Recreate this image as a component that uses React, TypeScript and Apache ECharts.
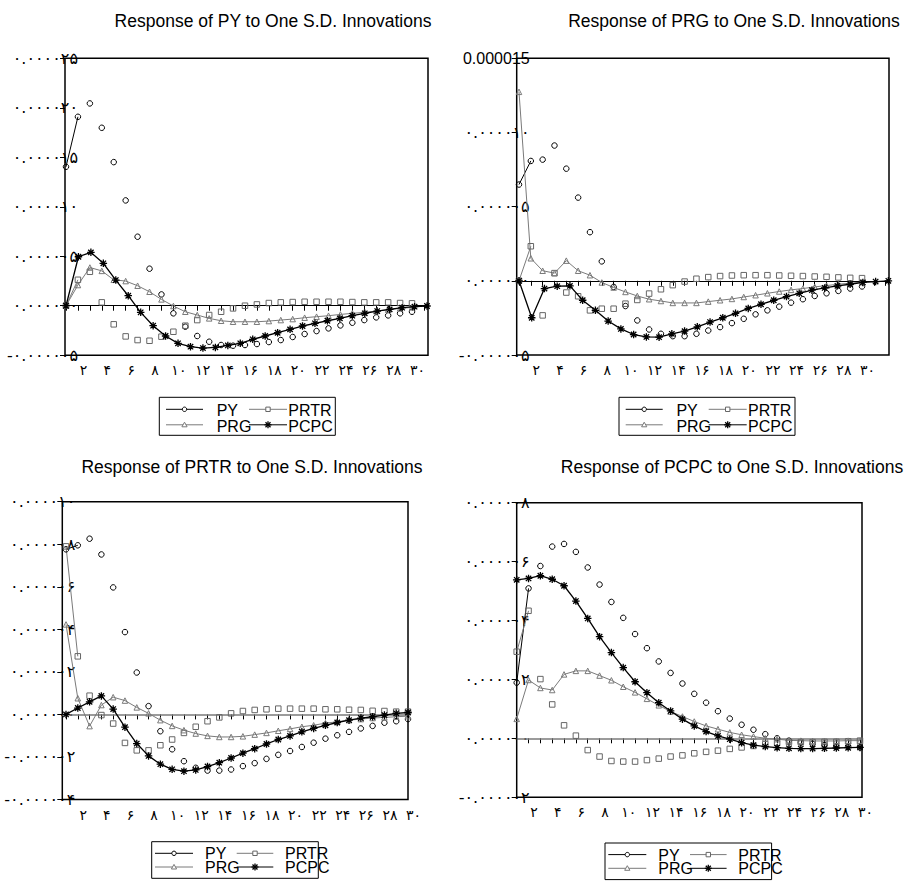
import React, { useEffect, useRef } from 'react';
import * as echarts from 'echarts';

// ---------- data (values in units of 1e-6) ----------
const PERIODS = [1, 2, 3, 4, 5, 6, 7, 8, 9, 10, 11, 12, 13, 14, 15, 16, 17, 18, 19, 20, 21, 22, 23, 24, 25, 26, 27, 28, 29, 30];
const X_TICKS = [1, 2, 3, 4, 5, 6, 7, 8, 9, 10, 11, 12, 13, 14, 15, 16, 17, 18, 19, 20, 21, 22, 23, 24, 25, 26, 27, 28, 29, 30, 31, 32];
const X_LABEL_TICKS = [2, 4, 6, 8, 10, 12, 14, 16, 18, 20, 22, 24, 26, 28, 30];
const X_TICK_LABELS = ['۲', '۴', '۶', '۸', '۱۰', '۱۲', '۱۴', '۱۶', '۱۸', '۲۰', '۲۲', '۲۴', '۲۶', '۲۸', '۳۰'];
const SERIES_NAMES = ['PY', 'PRTR', 'PRG', 'PCPC'];
const TITLES = [
  'Response of PY to One S.D. Innovations',
  'Response of PRG to One S.D. Innovations',
  'Response of PRTR to One S.D. Innovations',
  'Response of PCPC to One S.D. Innovations',
];

// Panel 1: response of PY
const PY_PY = [14.04, 19.09, 20.44, 17.98, 14.51, 10.64, 6.97, 3.74, 1.14, -0.77, -2.12, -3.06, -3.64, -3.97, -4.04, -3.97, -3.87, -3.67, -3.47, -3.16, -2.86, -2.56, -2.29, -1.99, -1.72, -1.45, -1.18, -0.98, -0.77, -0.61];
const PY_PRTR = [0, 2.62, 3.43, 0.34, -1.88, -3.1, -3.47, -3.54, -3.13, -2.63, -2.02, -1.45, -0.94, -0.61, -0.27, 0, 0.13, 0.27, 0.34, 0.37, 0.4, 0.4, 0.4, 0.4, 0.37, 0.34, 0.34, 0.34, 0.27, 0.24];
const PY_PRG = [0, 2.09, 3.86, 3.52, 2.62, 2.49, 2.02, 1.41, 0.64, -0.03, -0.61, -0.94, -1.28, -1.52, -1.62, -1.62, -1.62, -1.55, -1.45, -1.35, -1.21, -1.11, -1.01, -0.88, -0.77, -0.67, -0.54, -0.4, -0.27, -0.17];
const PY_PCPC = [0, 4.95, 5.39, 4.28, 2.59, 1.01, -0.67, -2.02, -3.06, -3.8, -4.14, -4.28, -4.21, -4.01, -3.8, -3.4, -3.06, -2.73, -2.39, -2.05, -1.78, -1.52, -1.28, -1.01, -0.77, -0.54, -0.37, -0.2, -0.1, -0.03];
const PY_Y_TICKS = [-5, 0, 5, 10, 15, 20, 25];
const PY_Y_LABELS = ['-۰.۰۰۰۰۰۵', '۰.۰۰۰۰۰۰', '۰.۰۰۰۰۰۵', '۰.۰۰۰۰۱۰', '۰.۰۰۰۰۱۵', '۰.۰۰۰۰۲۰', '۰.۰۰۰۰۲۵'];

// Panel 2: response of PRG
const PRG_PY = [6.49, 8.08, 8.17, 9.12, 7.56, 5.61, 3.28, 1.31, -0.41, -1.7, -2.67, -3.28, -3.57, -3.73, -3.73, -3.57, -3.35, -3.12, -2.85, -2.56, -2.26, -1.99, -1.74, -1.47, -1.24, -1.02, -0.84, -0.68, -0.52, -0.38];
const PRG_PRTR = [0, 2.33, -2.33, 0.52, -0.79, -1.04, -1.99, -1.88, -1.88, -1.54, -1.29, -0.86, -0.57, -0.29, -0.05, 0.14, 0.25, 0.32, 0.36, 0.38, 0.38, 0.38, 0.36, 0.34, 0.32, 0.29, 0.27, 0.23, 0.2, 0.18];
const PRG_PRG = [12.74, 1.52, 0.68, 0.52, 1.36, 0.68, 0.38, -0.11, -0.45, -0.75, -1.02, -1.24, -1.36, -1.49, -1.49, -1.49, -1.4, -1.31, -1.22, -1.09, -0.97, -0.84, -0.72, -0.61, -0.52, -0.41, -0.32, -0.23, -0.16, -0.09];
const PRG_PCPC = [0, -2.49, -0.52, -0.36, -0.34, -1.31, -1.99, -2.71, -3.24, -3.62, -3.78, -3.8, -3.57, -3.39, -3.1, -2.78, -2.49, -2.19, -1.86, -1.58, -1.31, -1.06, -0.84, -0.63, -0.48, -0.34, -0.23, -0.11, -0.05, 0];
const PRG_Y_TICKS = [-5, 0, 5, 10, 15];
const PRG_Y_LABELS = ['-۰.۰۰۰۰۰۵', '۰.۰۰۰۰۰۰', '۰.۰۰۰۰۰۵', '۰.۰۰۰۰۱۰', '0.000015'];

// Panel 3: response of PRTR
const PRTR_PY = [7.76, 7.95, 8.26, 7.52, 5.97, 3.87, 1.97, 0.39, -0.79, -1.64, -2.2, -2.51, -2.64, -2.64, -2.59, -2.43, -2.29, -2.09, -1.9, -1.72, -1.53, -1.33, -1.14, -0.98, -0.82, -0.66, -0.54, -0.39, -0.32, -0.22];
const PRTR_PRTR = [7.9, 2.73, 0.88, -0.03, -0.43, -1.34, -1.69, -1.69, -1.45, -1.18, -0.87, -0.58, -0.32, -0.14, 0.05, 0.16, 0.21, 0.24, 0.27, 0.27, 0.27, 0.27, 0.24, 0.24, 0.22, 0.21, 0.17, 0.16, 0.13, 0.13];
const PRTR_PRG = [4.23, 0.76, -0.55, 0.44, 0.81, 0.65, 0.33, 0.05, -0.27, -0.54, -0.74, -0.9, -1.01, -1.06, -1.06, -1.03, -0.95, -0.87, -0.77, -0.68, -0.58, -0.51, -0.41, -0.35, -0.27, -0.22, -0.17, -0.14, -0.11, -0.08];
const PRTR_PCPC = [0, 0.3, 0.59, 0.87, 0.25, -0.6, -1.37, -1.95, -2.34, -2.58, -2.67, -2.61, -2.45, -2.27, -2.05, -1.82, -1.61, -1.39, -1.18, -1.01, -0.82, -0.66, -0.51, -0.38, -0.27, -0.17, -0.11, -0.03, 0.05, 0.09];
const PRTR_Y_TICKS = [-4, -2, 0, 2, 4, 6, 8, 10];
const PRTR_Y_LABELS = ['-۰.۰۰۰۰۰۴', '-۰.۰۰۰۰۰۲', '۰.۰۰۰۰۰۰', '۰.۰۰۰۰۰۲', '۰.۰۰۰۰۰۴', '۰.۰۰۰۰۰۶', '۰.۰۰۰۰۰۸', '۰.۰۰۰۰۱۰'];

// Panel 4: response of PCPC
const PCPC_PY = [1.89, 5.09, 5.85, 6.51, 6.6, 6.33, 5.8, 5.22, 4.63, 4.09, 3.54, 3.06, 2.61, 2.22, 1.86, 1.51, 1.21, 0.92, 0.67, 0.46, 0.29, 0.14, 0, -0.08, -0.14, -0.19, -0.23, -0.26, -0.28, -0.31];
const PCPC_PRTR = [2.94, 4.33, 2.01, 1.15, 0.44, 0.09, -0.4, -0.62, -0.77, -0.79, -0.79, -0.74, -0.69, -0.62, -0.58, -0.51, -0.46, -0.42, -0.36, -0.31, -0.26, -0.2, -0.15, -0.12, -0.13, -0.13, -0.12, -0.12, -0.1, -0.08];
const PCPC_PRG = [0.66, 1.98, 1.71, 1.64, 2.17, 2.29, 2.29, 2.13, 1.97, 1.75, 1.56, 1.34, 1.12, 0.91, 0.74, 0.57, 0.42, 0.31, 0.2, 0.12, 0.06, 0, -0.03, -0.07, -0.08, -0.09, -0.09, -0.09, -0.08, -0.08];
const PCPC_PCPC = [5.38, 5.43, 5.52, 5.4, 5.18, 4.66, 4.07, 3.45, 2.91, 2.4, 1.92, 1.55, 1.21, 0.93, 0.65, 0.42, 0.23, 0.08, -0.03, -0.15, -0.23, -0.28, -0.32, -0.34, -0.35, -0.35, -0.34, -0.33, -0.32, -0.31];
const PCPC_Y_TICKS = [-2, 0, 2, 4, 6, 8];
const PCPC_Y_LABELS = ['-۰.۰۰۰۰۰۲', '۰.۰۰۰۰۰۰', '۰.۰۰۰۰۰۲', '۰.۰۰۰۰۰۴', '۰.۰۰۰۰۰۶', '۰.۰۰۰۰۰۸'];

// ---------- layout / style ----------
const GRAY = '#7a7a7a';
const SQ_GRAY = '#666666';
const STAR_PATH = 'path://M0,-5L0,5M-5,0L5,0M-3.6,-3.6L3.6,3.6M-3.6,3.6L3.6,-3.6';
const LEG_A = { w: 176, h: 38, r1: 12, r2: 27.5, tdy: 1.5, l1: [6.7, 43.7], m1: 25.2, t1: 57.4, l2: [89.7, 127.7], m2: 108.7, t2: 129 };
const LEG_B = { w: 166.6, h: 36.6, r1: 11.6, r2: 25.3, tdy: 0.5, l1: [3.3, 41.3], m1: 22.3, t1: 53.3, l2: [85, 121.6], m2: 103.3, t2: 133.3 };

const PANELS = [
  {
    values: [PY_PY, PY_PRTR, PY_PRG, PY_PCPC], yTicks: PY_Y_TICKS, yLabels: PY_Y_LABELS,
    grid: { left: 65, top: 58.3, width: 363, height: 296.9 },
    xA: [0.916, 31.34], xB: [0.92, 30.08], zero: { color: '#000', width: 1 },
    title: { x: 273, y: 21 }, legend: { x: 159.3, y: 397.3, L: LEG_A },
  },
  {
    values: [PRG_PY, PRG_PRTR, PRG_PRG, PRG_PCPC], yTicks: PRG_Y_TICKS, yLabels: PRG_Y_LABELS,
    grid: { left: 516.7, top: 58.3, width: 372.3, height: 296.7 },
    xA: [0.806, 32.28], xB: [0.82, 30.05], zero: { color: '#000', width: 1 },
    title: { x: 734, y: 21 }, legend: { x: 619, y: 397.3, L: LEG_A },
  },
  {
    values: [PRTR_PY, PRTR_PRTR, PRTR_PRG, PRTR_PCPC], yTicks: PRTR_Y_TICKS, yLabels: PRTR_Y_LABELS,
    grid: { left: 62.3, top: 501.7, width: 345.7, height: 297.8 },
    xA: [0.686, 30], xB: [0.686, 30], zero: { color: GRAY, width: 1.6 },
    title: { x: 252, y: 467 }, legend: { x: 151.7, y: 841.7, L: LEG_B },
  },
  {
    values: [PCPC_PY, PCPC_PRTR, PCPC_PRG, PCPC_PCPC], yTicks: PCPC_Y_TICKS, yLabels: PCPC_Y_LABELS,
    grid: { left: 516.7, top: 502.7, width: 345.3, height: 294.5 },
    xA: [1, 30.17], xB: [1, 30.17], zero: { color: GRAY, width: 1.6 },
    title: { x: 732, y: 467 }, legend: { x: 605, y: 843, L: LEG_B },
  },
];

const LABEL_FONT = 'DejaVu Sans';
const TEXT_FONT = 'Liberation Sans';

function pairs(vals: number[]) {
  return vals.map((v, i) => [PERIODS[i], v]);
}

function legendGraphics(p: any) {
  const { x: bx, y: by, L } = p.legend;
  const els: any[] = [];
  const y1 = by + L.r1;
  const y2 = by + L.r2;
  els.push({ type: 'rect', shape: { x: bx, y: by, width: L.w, height: L.h }, style: { fill: 'none', stroke: '#000', lineWidth: 1 } });
  const line = (x1: number, x2: number, y: number, color: string) => ({ type: 'line', shape: { x1: bx + x1, y1: y, x2: bx + x2, y2: y }, style: { stroke: color, lineWidth: 1 } });
  const text = (t: string, x: number, y: number) => ({
    type: 'text',
    style: { text: t, x: bx + x, y: y + L.tdy, fill: '#000', fontFamily: TEXT_FONT, fontSize: 16, textAlign: 'left', textVerticalAlign: 'middle', verticalAlign: 'middle' },
  });
  // row 1: PY, PRTR
  els.push(line(L.l1[0], L.l1[1], y1, '#000'));
  els.push({ type: 'circle', shape: { cx: bx + L.m1, cy: y1, r: 2.2 }, style: { fill: '#fff', stroke: '#000', lineWidth: 1 } });
  els.push(text(SERIES_NAMES[0], L.t1, y1));
  els.push(line(L.l2[0], L.l2[1], y1, GRAY));
  els.push({ type: 'rect', shape: { x: bx + L.m2 - 2.2, y: y1 - 2.2, width: 4.4, height: 4.4 }, style: { fill: '#fff', stroke: SQ_GRAY, lineWidth: 1 } });
  els.push(text(SERIES_NAMES[1], L.t2, y1));
  // row 2: PRG, PCPC
  els.push(line(L.l1[0], L.l1[1], y2, GRAY));
  els.push({ type: 'polygon', shape: { points: [[bx + L.m1, y2 - 2.6], [bx + L.m1 + 2.6, y2 + 2], [bx + L.m1 - 2.6, y2 + 2]] }, style: { fill: '#fff', stroke: GRAY, lineWidth: 1 } });
  els.push(text(SERIES_NAMES[2], L.t1, y2));
  els.push(line(L.l2[0], L.l2[1], y2, '#000'));
  const sx = bx + L.m2;
  const starArms = [[0, -3.5, 0, 3.5], [-3.5, 0, 3.5, 0], [-2.5, -2.5, 2.5, 2.5], [-2.5, 2.5, 2.5, -2.5]];
  starArms.forEach((a) => els.push({ type: 'line', shape: { x1: sx + a[0], y1: y2 + a[1], x2: sx + a[2], y2: y2 + a[3] }, style: { stroke: '#000', lineWidth: 1.3 } }));
  els.push(text(SERIES_NAMES[3], L.t2, y2));
  return els;
}

function buildOption() {
  const grid: any[] = [];
  const xAxis: any[] = [];
  const yAxis: any[] = [];
  const series: any[] = [];
  const graphic: any[] = [];

  PANELS.forEach((p, k) => {
    grid.push({ ...p.grid, show: true, borderColor: '#000', borderWidth: 1.5, backgroundColor: 'transparent', containLabel: false });
    const ticks = X_TICKS.filter((t) => t >= p.xA[0] - 1e-9 && t <= p.xA[1] + 1e-9);
    // tick axis (A)
    xAxis.push({
      gridIndex: k, type: 'value', min: p.xA[0], max: p.xA[1], position: 'bottom',
      axisLine: { show: false },
      axisTick: { show: true, length: 5, customValues: ticks, lineStyle: { color: '#000', width: 1 } },
      axisLabel: {
        show: true, customValues: X_LABEL_TICKS, margin: 8, padding: [0, 0, 0, 11],
        color: '#000', fontFamily: LABEL_FONT, fontSize: 14,
        formatter: (v: number) => {
          const r = Math.round(v);
          const i = X_LABEL_TICKS.indexOf(r);
          return i >= 0 && Math.abs(v - r) < 1e-6 ? X_TICK_LABELS[i] : '';
        },
      },
      splitLine: { show: false },
    });
    // axis for the PCPC series (B)
    xAxis.push({ gridIndex: k, type: 'value', min: p.xB[0], max: p.xB[1], show: false, splitLine: { show: false } });

    const yt = p.yTicks;
    yAxis.push({
      gridIndex: k, type: 'value', min: yt[0], max: yt[yt.length - 1], interval: yt[1] - yt[0],
      axisLine: { show: false },
      axisTick: { show: true, length: 5, lineStyle: { color: '#000', width: 1 } },
      axisLabel: {
        show: true, margin: -13, color: '#000', fontFamily: LABEL_FONT, fontSize: 16,
        formatter: (v: number) => {
          const i = yt.findIndex((t) => Math.abs(t - v) < 1e-9);
          if (i < 0) return '';
          const s = p.yLabels[i];
          return /[0-9]/.test(s) ? '{lat|' + s + '}' : s;
        },
        rich: { lat: { fontFamily: TEXT_FONT, fontSize: 16, color: '#000' } },
      },
      splitLine: { show: false },
    });

    const xa = 2 * k;
    const xb = 2 * k + 1;
    const [vPY, vPRTR, vPRG, vPCPC] = p.values;

    // PY: markers, plus the first segment as a line
    series.push({
      name: SERIES_NAMES[0], type: 'line', xAxisIndex: xa, yAxisIndex: k, data: pairs(vPY),
      symbol: 'circle', symbolSize: 5.5, showSymbol: true, showAllSymbol: true,
      itemStyle: { color: 'rgba(255,255,255,0)', borderColor: '#000', borderWidth: 1 },
      lineStyle: { width: 0, opacity: 0 }, z: 4,
    });
    series.push({
      name: SERIES_NAMES[0] + ' seg', type: 'line', xAxisIndex: xa, yAxisIndex: k, data: pairs(vPY).slice(0, 2),
      symbol: 'none', lineStyle: { color: '#000', width: 1 }, z: 3,
    });
    // PRTR
    series.push({
      name: SERIES_NAMES[1], type: 'line', xAxisIndex: xa, yAxisIndex: k, data: pairs(vPRTR),
      symbol: 'rect', symbolSize: 5.5, showSymbol: true, showAllSymbol: true,
      itemStyle: { color: 'rgba(255,255,255,0)', borderColor: SQ_GRAY, borderWidth: 1 },
      lineStyle: { width: 0, opacity: 0 }, z: 4,
    });
    series.push({
      name: SERIES_NAMES[1] + ' seg', type: 'line', xAxisIndex: xa, yAxisIndex: k, data: pairs(vPRTR).slice(0, 2),
      symbol: 'none', lineStyle: { color: GRAY, width: 1 }, z: 3,
    });
    // PRG
    series.push({
      name: SERIES_NAMES[2], type: 'line', xAxisIndex: xa, yAxisIndex: k, data: pairs(vPRG),
      symbol: 'triangle', symbolSize: 5.5, showSymbol: true, showAllSymbol: true,
      itemStyle: { color: 'rgba(255,255,255,0)', borderColor: GRAY, borderWidth: 1 },
      lineStyle: { color: GRAY, width: 1 }, z: 4,
    });
    // PCPC (with zero line)
    series.push({
      name: SERIES_NAMES[3], type: 'line', xAxisIndex: xb, yAxisIndex: k, data: pairs(vPCPC),
      symbol: STAR_PATH, symbolSize: 7.5, showSymbol: true, showAllSymbol: true,
      itemStyle: { color: '#000', borderColor: '#000', borderWidth: 1.3 },
      lineStyle: { color: '#000', width: 1.3 }, z: 5,
      markLine: {
        silent: true, symbol: ['none', 'none'], label: { show: false },
        lineStyle: { color: p.zero.color, width: p.zero.width, type: 'solid' },
        data: [{ yAxis: 0 }], z: 2,
      },
    });

    graphic.push({
      type: 'text',
      style: { text: TITLES[k], x: p.title.x, y: p.title.y, fill: '#000', fontFamily: TEXT_FONT, fontSize: 17.5, textAlign: 'center', textVerticalAlign: 'middle', verticalAlign: 'middle' },
    });
    legendGraphics(p).forEach((e) => graphic.push(e));
  });

  return { animation: false, backgroundColor: '#fff', grid, xAxis, yAxis, series, graphic };
}

export default function App() {
  const ref = useRef<HTMLDivElement>(null);
  useEffect(() => {
    if (!ref.current) return;
    const chart = echarts.init(ref.current, null, { renderer: 'svg' });
    chart.setOption(buildOption() as any);
    return () => chart.dispose();
  }, []);
  return <div ref={ref} style={{ position: 'absolute', left: 0, top: 0, width: 905, height: 881, background: '#fff' }} />;
}
